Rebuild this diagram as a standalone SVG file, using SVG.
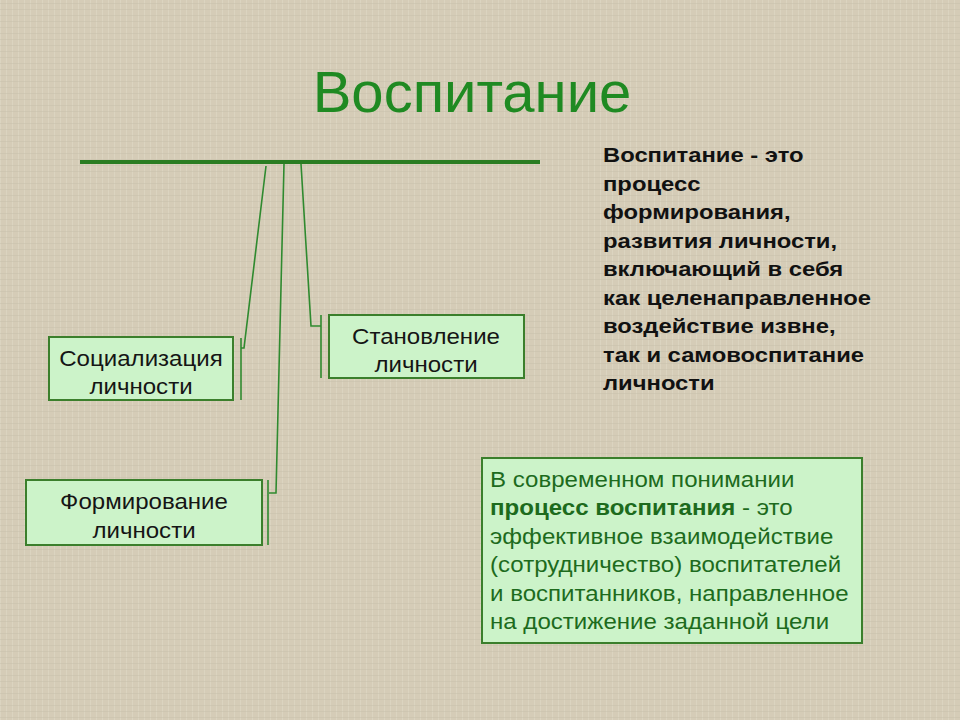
<svg xmlns="http://www.w3.org/2000/svg" width="960" height="720" viewBox="0 0 960 720">
<defs>
<pattern id="tex" width="6" height="6" patternUnits="userSpaceOnUse">
<rect width="6" height="6" fill="#d5ccb7"/>
<rect x="0" y="0" width="1" height="6" fill="#e0d9c6" opacity="0.6"/>
<rect x="0" y="3" width="6" height="1" fill="#c8c0ab" opacity="0.5"/>
</pattern>
<style>
.box{fill:#ccf3c9;stroke:#3b7f2c;stroke-width:2}
.lbl{font-family:"Liberation Sans",Arial,sans-serif;font-size:21.5px;fill:#151515;text-anchor:middle}
.con{fill:none;stroke:#2f8a2f;stroke-width:1.6}
.def{font-family:"Liberation Sans",Arial,sans-serif;font-size:20px;font-weight:bold;fill:#111}
.mod{font-family:"Liberation Sans",Arial,sans-serif;font-size:21.5px;fill:#1d6b1d}
</style>
</defs>
<rect width="960" height="720" fill="url(#tex)"/>
<g id="title">
<text x="472" y="112" font-family="'Liberation Sans',Arial,sans-serif" font-size="58" fill="#1f8a22" text-anchor="middle">Воспитание</text>
<line x1="80" y1="162" x2="540" y2="162" stroke="#2a7d22" stroke-width="4"/>
</g>
<g id="connectors">
<polyline class="con" points="266,166 244,348 241,348"/>
<line class="con" x1="241" y1="338" x2="241" y2="400"/>
<polyline class="con" points="284,164 276,493 269,493"/>
<line class="con" x1="268" y1="480" x2="268" y2="545"/>
<polyline class="con" points="301,164 311,326 321,326"/>
<line class="con" x1="321" y1="315" x2="321" y2="378"/>
</g>
<g id="socializacia">
<rect class="box" x="49" y="337" width="184" height="63"/>
<g transform="translate(141,0) scale(1.12,1)">
<text class="lbl" x="0" y="366">Социализация</text>
<text class="lbl" x="0" y="394">личности</text>
</g>
</g>
<g id="stanovlenie">
<rect class="box" x="329" y="315" width="195" height="63"/>
<g transform="translate(426,0) scale(1.12,1)">
<text class="lbl" x="0" y="344">Становление</text>
<text class="lbl" x="0" y="372">личности</text>
</g>
</g>
<g id="formirovanie">
<rect class="box" x="26" y="480" width="236" height="65"/>
<g transform="translate(144,0) scale(1.12,1)">
<text class="lbl" x="0" y="509">Формирование</text>
<text class="lbl" x="0" y="538">личности</text>
</g>
</g>
<g id="definition">
<g transform="translate(603,0) scale(1.19,1)">
<text class="def" x="0" y="162">Воспитание - это</text>
<text class="def" x="0" y="191">процесс</text>
<text class="def" x="0" y="219">формирования,</text>
<text class="def" x="0" y="248">развития личности,</text>
<text class="def" x="0" y="276">включающий в себя</text>
<text class="def" x="0" y="305">как целенаправленное</text>
<text class="def" x="0" y="333">воздействие извне,</text>
<text class="def" x="0" y="362">так и самовоспитание</text>
<text class="def" x="0" y="390">личности</text>
</g>
</g>
<g id="modern">
<rect class="box" x="482" y="458" width="380" height="185"/>
<g transform="translate(490,0) scale(1.12,1)">
<text class="mod" x="0" y="487">В современном понимании</text>
<text class="mod" x="0" y="515.5"><tspan font-weight="bold">процесс воспитания</tspan> - это</text>
<text class="mod" x="0" y="544">эффективное взаимодействие</text>
<text class="mod" x="0" y="572.5">(сотрудничество) воспитателей</text>
<text class="mod" x="0" y="601">и воспитанников, направленное</text>
<text class="mod" x="0" y="629">на достижение заданной цели</text>
</g>
</g>
</svg>
